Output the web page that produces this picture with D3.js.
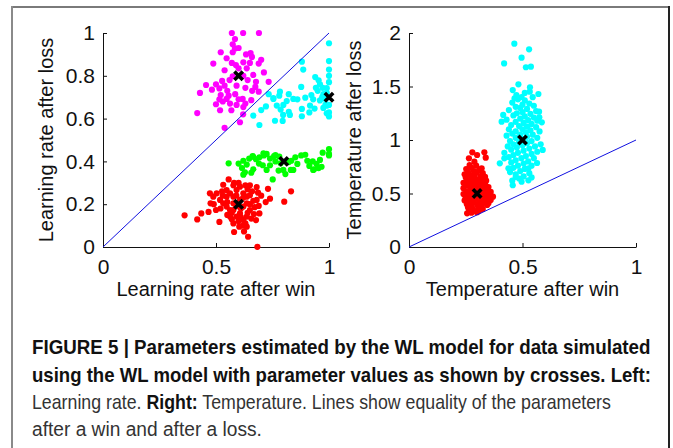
<!DOCTYPE html>
<html>
<head>
<meta charset="utf-8">
<script src="https://cdn.jsdelivr.net/npm/d3@7/dist/d3.min.js"></script>
<style>
  body { margin: 0; background: #fff; }
  svg { display: block; }
</style>
</head>
<body>
<div id="chart-area"></div>
<script>
// ---- data ----
// left panel: [learning rate after win, learning rate after loss]
var lrMagenta = [[0.57,1.0],[0.62,1.0],[0.69,1.0],[0.584,0.972],[0.574,0.947],[0.584,0.928],[0.574,0.91],[0.521,0.91],
  [0.633,0.90],[0.653,0.906],[0.659,0.888],[0.547,0.882],[0.621,0.863],[0.65,0.86],[0.70,0.875],[0.588,0.85],[0.488,0.857],
  [0.538,0.826],[0.636,0.835],[0.689,0.857],[0.712,0.816],[0.574,0.798],[0.621,0.80],[0.665,0.804],[0.527,0.776],[0.733,0.772],
  [0.677,0.772],[0.456,0.757],[0.50,0.76],[0.538,0.754],[0.591,0.754],[0.63,0.744],[0.674,0.748],[0.429,0.72],[0.482,0.735],
  [0.515,0.741],[0.689,0.726],[0.521,0.71],[0.556,0.707],[0.585,0.714],[0.618,0.692],[0.515,0.69],[0.547,0.692],[0.656,0.686],
  [0.50,0.667],[0.562,0.67],[0.591,0.664],[0.621,0.654],[0.518,0.639],[0.568,0.639],[0.417,0.626],[0.538,0.557],[0.606,0.583],
  [0.63,0.67],[0.60,0.93],[0.56,0.78],[0.55,0.73],[0.64,0.78],[0.66,0.73],[0.53,0.68],[0.60,0.69],[0.62,0.62],[0.57,0.86],[0.60,0.835]];
var lrCyan = [[1.0,0.952],[1.0,0.869],[1.0,0.829],[1.0,0.80],[1.0,0.77],[0.99,0.742],[1.0,0.664],[1.0,0.629],[1.0,0.61],
  [0.88,0.866],[0.886,0.829],[0.939,0.794],[0.954,0.779],[0.942,0.744],[0.972,0.744],[0.975,0.714],[0.96,0.685],[0.984,0.664],
  [0.877,0.748],[0.895,0.698],[0.922,0.71],[0.916,0.661],[0.88,0.645],[0.913,0.629],[0.88,0.611],[0.936,0.647],[0.783,0.726],
  [0.78,0.707],[0.754,0.692],[0.822,0.714],[0.842,0.692],[0.813,0.682],[0.798,0.664],[0.769,0.661],[0.721,0.657],[0.786,0.642],
  [0.822,0.632],[0.827,0.617],[0.665,0.614],[0.795,0.589],[0.692,0.57],[0.733,0.714],[0.99,0.72],[0.985,0.69],[0.97,0.70],
  [0.99,0.66],[0.975,0.65],[0.99,0.625],[0.761,0.59],[0.797,0.617],[0.754,0.696],[0.95,0.73],[0.96,0.76],[0.93,0.69],[0.86,0.69],[0.70,0.64]];
var lrGreen = [[0.556,0.391],[0.621,0.403],[0.647,0.413],[0.636,0.385],[0.615,0.369],[0.662,0.425],[0.677,0.41],[0.692,0.419],
  [0.712,0.428],[0.71,0.438],[0.665,0.363],[0.656,0.347],[0.621,0.338],[0.707,0.382],[0.724,0.36],[0.739,0.382],[0.757,0.425],
  [0.763,0.40],[0.78,0.423],[0.777,0.357],[0.751,0.316],[0.807,0.341],[0.831,0.36],[0.833,0.403],[0.851,0.419],[0.86,0.388],
  [0.877,0.428],[0.895,0.431],[0.904,0.403],[0.913,0.379],[0.928,0.40],[0.945,0.388],[0.954,0.369],[0.934,0.363],[0.96,0.407],
  [0.972,0.441],[1.0,0.457],[1.0,0.428],[0.739,0.413],[0.786,0.391],[0.822,0.397],[0.798,0.36],[0.842,0.36],[0.93,0.36],
  [0.967,0.375],[1.0,0.435],[0.628,0.349],[0.665,0.422],[0.724,0.435],[0.763,0.43],[0.69,0.39],[0.60,0.39]];
var lrRed = [[0.361,0.148],[0.417,0.129],[0.435,0.157],[0.467,0.164],[0.50,0.173],[0.515,0.117],[0.556,0.316],[0.532,0.291],
  [0.473,0.251],[0.488,0.235],[0.476,0.204],[0.527,0.26],[0.591,0.204],[0.65,0.288],[0.686,0.254],[0.73,0.272],[0.739,0.226],
  [0.689,0.192],[0.692,0.157],[0.668,0.154],[0.677,0.126],[0.636,0.095],[0.624,0.073],[0.642,0.048],[0.683,0.001],[0.603,0.095],
  [0.577,0.11],[0.562,0.142],[0.532,0.204],[0.518,0.22],[0.547,0.189],[0.577,0.173],[0.606,0.157],[0.636,0.142],[0.65,0.173],
  [0.665,0.216],[0.636,0.235],[0.621,0.251],[0.562,0.251],[0.547,0.235],[0.577,0.235],[0.577,0.204],[0.562,0.173],[0.621,0.189],
  [0.636,0.204],[0.606,0.22],[0.591,0.266],[0.606,0.282],[0.577,0.288],[0.63,0.288],[0.65,0.242],[0.671,0.186],[0.656,0.133],
  [0.591,0.142],[0.621,0.126],[0.503,0.251],[0.547,0.266],[0.802,0.212],[0.832,0.26],
  [0.59,0.24],[0.61,0.18],[0.57,0.16],[0.6,0.12],[0.62,0.1],[0.64,0.16],[0.55,0.21],[0.53,0.24],[0.6,0.3],[0.68,0.22],[0.7,0.24],
  [0.66,0.26],[0.59,0.19],[0.62,0.23],[0.64,0.27],[0.55,0.15],[0.58,0.07],[0.61,0.14],[0.65,0.2],[0.52,0.18],[0.49,0.2],[0.57,0.13],
  [0.63,0.11],[0.68,0.28],[0.58,0.3],[0.72,0.21]];
var lrTrue = [[0.6,0.8],[1.0,0.7],[0.8,0.4],[0.6,0.2]];

// right panel: [temperature after win, temperature after loss]
var tRed = [[0.279,0.885],[0.30,0.86],[0.332,0.885],[0.338,0.835],[0.264,0.829],[0.288,0.797],[0.267,0.766],[0.252,0.729],
  [0.296,0.76],[0.32,0.736],[0.275,0.74],[0.31,0.72],[0.285,0.71],[0.3,0.7],[0.26,0.70],[0.325,0.69],[0.245,0.68],[0.27,0.67],
  [0.29,0.675],[0.315,0.66],[0.335,0.655],[0.25,0.65],[0.28,0.64],[0.3,0.63],[0.32,0.635],[0.34,0.62],[0.26,0.62],[0.24,0.60],
  [0.275,0.60],[0.295,0.605],[0.315,0.6],[0.335,0.59],[0.25,0.575],[0.265,0.58],[0.29,0.57],[0.31,0.565],[0.33,0.57],[0.35,0.56],
  [0.24,0.55],[0.27,0.545],[0.285,0.54],[0.305,0.535],[0.325,0.54],[0.345,0.53],[0.36,0.515],[0.255,0.52],[0.275,0.51],
  [0.295,0.52],[0.315,0.505],[0.335,0.5],[0.24,0.495],[0.26,0.49],[0.285,0.48],[0.31,0.485],[0.33,0.475],[0.355,0.48],[0.37,0.47],
  [0.25,0.465],[0.27,0.455],[0.295,0.45],[0.32,0.445],[0.34,0.45],[0.36,0.44],[0.245,0.435],[0.265,0.425],[0.285,0.42],
  [0.31,0.415],[0.33,0.42],[0.35,0.41],[0.255,0.4],[0.275,0.39],[0.3,0.395],[0.32,0.385],[0.344,0.393],[0.26,0.37],[0.28,0.36],
  [0.305,0.365],[0.325,0.355],[0.265,0.345],[0.29,0.335],[0.31,0.34],[0.256,0.315],[0.275,0.32],[0.30,0.325]];
var tCyan = [[0.464,1.9],[0.529,1.847],[0.496,1.769],[0.419,1.716],[0.537,1.685],[0.515,1.68],[0.482,1.52],[0.533,1.492],
  [0.457,1.467],[0.57,1.43],[0.532,1.452],[0.473,1.42],[0.496,1.402],[0.415,1.234],[0.408,1.171],[0.574,1.212],[0.585,1.165],
  [0.589,0.907],[0.40,0.782],[0.42,0.829],[0.438,0.736],[0.47,0.654],[0.496,0.61],[0.457,0.577],[0.526,0.623],[0.526,0.736],
  [0.564,0.785],[0.573,1.265],[0.51,1.44],[0.545,1.4],[0.465,1.39],
  [0.48,1.38],[0.51,1.37],[0.455,1.35],[0.53,1.34],[0.5,1.33],[0.47,1.31],[0.55,1.32],[0.49,1.3],[0.52,1.29],[0.44,1.28],
  [0.56,1.27],[0.5,1.26],[0.475,1.25],[0.535,1.245],[0.46,1.23],[0.51,1.22],[0.55,1.21],[0.49,1.2],[0.43,1.19],[0.525,1.185],
  [0.565,1.18],[0.47,1.17],[0.505,1.16],[0.54,1.15],[0.45,1.14],[0.485,1.13],[0.52,1.125],[0.56,1.12],[0.44,1.1],[0.5,1.1],
  [0.535,1.09],[0.47,1.08],[0.575,1.08],[0.515,1.07],[0.455,1.06],[0.49,1.05],[0.545,1.05],[0.43,1.04],[0.52,1.03],[0.565,1.02],
  [0.47,1.02],[0.5,1.01],[0.445,0.99],[0.54,0.99],[0.485,0.98],[0.52,0.97],[0.58,0.96],[0.46,0.96],[0.5,0.95],[0.435,0.94],
  [0.555,0.94],[0.475,0.93],[0.53,0.92],[0.45,0.91],[0.505,0.9],[0.565,0.89],[0.42,0.88],[0.48,0.88],[0.54,0.87],[0.46,0.86],
  [0.515,0.85],[0.44,0.84],[0.495,0.83],[0.55,0.83],[0.47,0.81],[0.525,0.8],[0.45,0.79],[0.505,0.78],[0.48,0.76],[0.54,0.76],
  [0.46,0.74],[0.51,0.73],[0.49,0.71],[0.445,0.7],[0.53,0.69],[0.47,0.68],[0.505,0.66],[0.485,0.64],[0.54,0.65],[0.455,0.62]];
var tTrue = [[0.3,0.5],[0.5,1.0]];

var lrTicksX = [0, 0.5, 1], lrTicksY = [0, 0.2, 0.4, 0.6, 0.8, 1];
var tTicksX = [0, 0.5, 1], tTicksY = [0, 0.5, 1, 1.5, 2];

var captionLines = [
  [{t: "FIGURE 5 | Parameters estimated by the WL model for data simulated", b: true}],
  [{t: "using the WL model with parameter values as shown by crosses. Left:", b: true}],
  [{t: "Learning rate. ", b: false}, {t: "Right:", b: true}, {t: " Temperature. Lines show equality of the parameters", b: false}],
  [{t: "after a win and after a loss.", b: false}]
];

// ---- drawing ----
var W = 673, H = 448;
var svg = d3.select("#chart-area").append("svg")
    .attr("width", W).attr("height", H)
    .style("font-family", "'Liberation Sans', Arial, sans-serif");

svg.append("rect").attr("width", W).attr("height", H).attr("fill", "#fff");

// figure frame
svg.append("line").attr("x1", 12).attr("x2", 670).attr("y1", 7).attr("y2", 7)
    .attr("stroke", "#7a7a7a").attr("stroke-width", 2);
svg.append("line").attr("x1", 12).attr("x2", 12).attr("y1", 6).attr("y2", H)
    .attr("stroke", "#8a8a8a").attr("stroke-width", 2);
svg.append("line").attr("x1", 669).attr("x2", 669).attr("y1", 6).attr("y2", H)
    .attr("stroke", "#222").attr("stroke-width", 2);

function drawPanel(p) {
    var x = d3.scaleLinear().domain([0, 1]).range([p.left, p.right]);
    var y = d3.scaleLinear().domain([0, p.ymax]).range([p.bottom, p.top]);
    var g = svg.append("g");

    g.append("g")
        .attr("transform", "translate(0," + p.bottom + ")")
        .call(d3.axisBottom(x).tickValues(p.xticks).tickSizeInner(-4).tickSizeOuter(0)
            .tickPadding(12).tickFormat(d3.format("~g")));
    g.append("g")
        .attr("transform", "translate(" + p.left + ",0)")
        .call(d3.axisLeft(y).tickValues(p.yticks).tickSizeInner(-4).tickSizeOuter(0)
            .tickPadding(8).tickFormat(d3.format("~g")));
    g.selectAll(".tick text").attr("font-size", 21).attr("font-family", "'Liberation Sans', Arial, sans-serif").attr("fill", "#111");
    g.selectAll(".domain, .tick line").attr("stroke", "#111");

    p.series.forEach(function (s) {
        g.append("g").selectAll("circle")
            .data(s.data)
            .enter()
            .append("circle")
            .attr("cx", function (d) { return x(d[0]); })
            .attr("cy", function (d) { return y(d[1]); })
            .attr("r", 3.1)
            .attr("fill", s.color);
    });

    // equality line
    g.append("line")
        .attr("x1", x(0)).attr("y1", y(0)).attr("x2", x(1)).attr("y2", y(1))
        .attr("stroke", "#1010e0").attr("stroke-width", 1);

    // true parameter values
    g.selectAll("path.cross")
        .data(p.truth)
        .enter()
        .append("path")
        .attr("class", "cross")
        .attr("d", "M-4.2,-4.2L4.2,4.2M-4.2,4.2L4.2,-4.2")
        .attr("transform", function (d) { return "translate(" + x(d[0]) + "," + y(d[1]) + ")"; })
        .attr("stroke", "#000").attr("stroke-width", 3.6);

    g.append("text")
        .attr("x", (p.left + p.right) / 2).attr("y", 296)
        .attr("text-anchor", "middle").attr("font-size", 20).attr("fill", "#111")
        .text(p.xlabel);
    g.append("text")
        .attr("transform", "translate(" + p.ylabelX + "," + ((p.top + p.bottom) / 2) + ") rotate(-90)")
        .attr("text-anchor", "middle").attr("font-size", 20).attr("fill", "#111")
        .text(p.ylabel);
}

drawPanel({
    left: 103, right: 329, top: 33, bottom: 247, ymax: 1,
    xticks: lrTicksX, yticks: lrTicksY,
    series: [
        {data: lrMagenta, color: "#ff00ff"},
        {data: lrCyan, color: "#00ffff"},
        {data: lrGreen, color: "#00ff00"},
        {data: lrRed, color: "#ff0000"}
    ],
    truth: lrTrue,
    xlabel: "Learning rate after win", ylabel: "Learning rate after loss", ylabelX: 53
});

drawPanel({
    left: 409, right: 636, top: 33, bottom: 247, ymax: 2,
    xticks: tTicksX, yticks: tTicksY,
    series: [
        {data: tRed, color: "#ff0000"},
        {data: tCyan, color: "#00ffff"}
    ],
    truth: tTrue,
    xlabel: "Temperature after win", ylabel: "Temperature after loss", ylabelX: 361
});

// caption, narrow font squeezed to the measured line widths
var capBase = [354, 382, 409, 436];
var capWidth = [619, 619, 579, 230];
captionLines.forEach(function (line, i) {
    var t = svg.append("text")
        .attr("font-size", 20)
        .attr("font-family", "'Liberation Sans Narrow', 'Liberation Sans', Arial, sans-serif")
        .attr("fill", "#111");
    line.forEach(function (part) {
        t.append("tspan")
            .attr("font-weight", part.b ? "bold" : "normal")
            .attr("fill", part.b ? "#111" : "#333")
            .text(part.t);
    });
    var w = t.node().getComputedTextLength();
    var sx = capWidth[i] / w;
    t.attr("transform", "translate(32," + capBase[i] + ") scale(" + sx + ",1)");
});
</script>
</body>
</html>
